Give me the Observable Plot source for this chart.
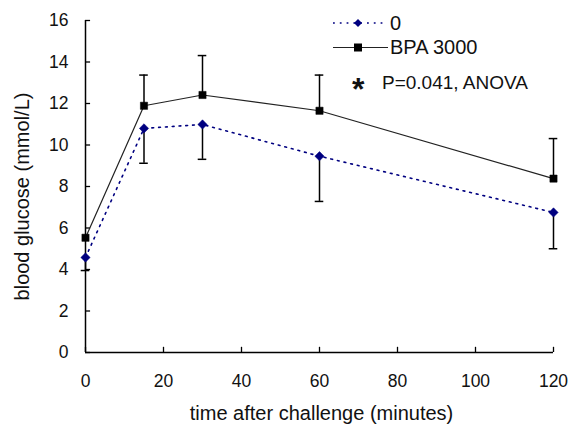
<!DOCTYPE html>
<html><head><meta charset="utf-8">
<script src="https://cdn.jsdelivr.net/npm/d3@7"></script>
<script src="https://cdn.jsdelivr.net/npm/@observablehq/plot@0.6"></script>
<style>
body{margin:0;background:#fff;font-family:"Liberation Sans",Arial,sans-serif;}
#wrap{position:relative;width:569px;height:426px;}
#legend{position:absolute;left:0;top:0;}
</style></head>
<body><div id="wrap"></div>
<script>
const times = [0, 15, 30, 60, 120];
const ctrlMean = [4.58, 10.80, 10.99, 9.46, 6.75];
const ctrlLow = [3.95, 9.12, 9.31, 7.28, 5.00];
const bpaMean = [5.53, 11.89, 12.41, 11.65, 8.38];
const bpaHigh = [5.53, 13.37, 14.31, 13.37, 10.31];
const xTicks = [0, 20, 40, 60, 80, 100, 120];
const yTicks = [0, 2, 4, 6, 8, 10, 12, 14, 16];
const seriesNames = ["0", "BPA 3000"];
const note = "P=0.041, ANOVA";
const xTitle = "time after challenge (minutes)";
const yTitle = "blood glucose (mmol/L)";

const ctrl = times.map((t, i) => ({t, m: ctrlMean[i], e: ctrlLow[i]}));
const bpa = times.map((t, i) => ({t, m: bpaMean[i], e: bpaHigh[i]}));
const navy = "#000080";
const capHalf = 1.1;
const font = "Liberation Sans, Arial, sans-serif";

const chart = Plot.plot({
  width: 569, height: 426,
  marginLeft: 85, marginRight: 16, marginTop: 20, marginBottom: 74,
  style: {fontFamily: font, fontSize: "17.5px", color: "#111", background: "#fff"},
  x: {domain: [0, 120], ticks: xTicks, tickSize: 0, tickPadding: 22, label: null},
  y: {domain: [0, 16], ticks: yTicks, tickSize: 0, tickPadding: 17, label: null},
  marks: [
    Plot.ruleY(yTicks, {y: d => d, x1: 0, x2: 1.3, stroke: "#000", strokeWidth: 1.3}),
    Plot.ruleX(xTicks, {x: d => d, y1: 0, y2: 0.25, stroke: "#000", strokeWidth: 1.3}),
    Plot.ruleX([0], {y1: 0, y2: 16, stroke: "#000", strokeWidth: 1.5}),
    Plot.ruleY([0], {x1: 0, x2: 120, stroke: "#000", strokeWidth: 1.5}),
    Plot.text([xTitle], {frameAnchor: "bottom", text: d => d, dy: 61, dx: 2, fontSize: 20, lineAnchor: "middle", textAnchor: "middle", fill: "#111"}),
    Plot.text([yTitle], {frameAnchor: "left", text: d => d, dx: -63, dy: 10, rotate: -90, fontSize: 20, lineAnchor: "middle", textAnchor: "middle", fill: "#111"}),
    // error bars
    Plot.ruleX(ctrl, {x: "t", y1: "m", y2: "e", stroke: "#000", strokeWidth: 1.5}),
    Plot.ruleY(ctrl, {y: "e", x1: d => d.t - capHalf, x2: d => d.t + capHalf, stroke: "#000", strokeWidth: 1.5}),
    Plot.ruleX(bpa.filter(d => d.e > d.m), {x: "t", y1: "m", y2: "e", stroke: "#000", strokeWidth: 1.5}),
    Plot.ruleY(bpa.filter(d => d.e > d.m), {y: "e", x1: d => d.t - capHalf, x2: d => d.t + capHalf, stroke: "#000", strokeWidth: 1.5}),
    // lines
    Plot.line(ctrl, {x: "t", y: "m", stroke: navy, strokeWidth: 1.6, strokeDasharray: "1.8,5"}),
    Plot.line(bpa, {x: "t", y: "m", stroke: "#222", strokeWidth: 1.2}),
    Plot.dot(ctrl, {x: "t", y: "m", symbol: "diamond2", r: 4.2, fill: navy, stroke: navy, strokeWidth: 0.5}),
    Plot.dot(bpa, {x: "t", y: "m", symbol: "square2", r: 4.6, fill: "#000", stroke: "#000", strokeWidth: 0.5})
  ]
});
document.getElementById("wrap").appendChild(chart);

// legend overlay
const ns = "http://www.w3.org/2000/svg";
const lg = document.createElementNS(ns, "svg");
lg.setAttribute("id", "legend");
lg.setAttribute("width", 569); lg.setAttribute("height", 130);
lg.innerHTML = `
<g font-family="${font}" font-size="20" fill="#111">
  <line x1="333" x2="383" y1="23" y2="23" stroke="${navy}" stroke-width="1.6" stroke-dasharray="1.8,5"/>
  <path d="M358,19 L362,23 L358,27 L354,23Z" fill="${navy}"/>
  <text x="390" y="29.5">${seriesNames[0]}</text>
  <line x1="333" x2="388" y1="47.5" y2="47.5" stroke="#222" stroke-width="1.2"/>
  <rect x="354" y="43.5" width="8" height="8" fill="#000"/>
  <text x="390" y="53.5">${seriesNames[1]}</text>
  <text x="352" y="100" font-size="32" font-weight="bold">*</text>
  <text x="382" y="88.5" font-size="19">${note}</text>
</g>`;
document.getElementById("wrap").appendChild(lg);
</script></body></html>
